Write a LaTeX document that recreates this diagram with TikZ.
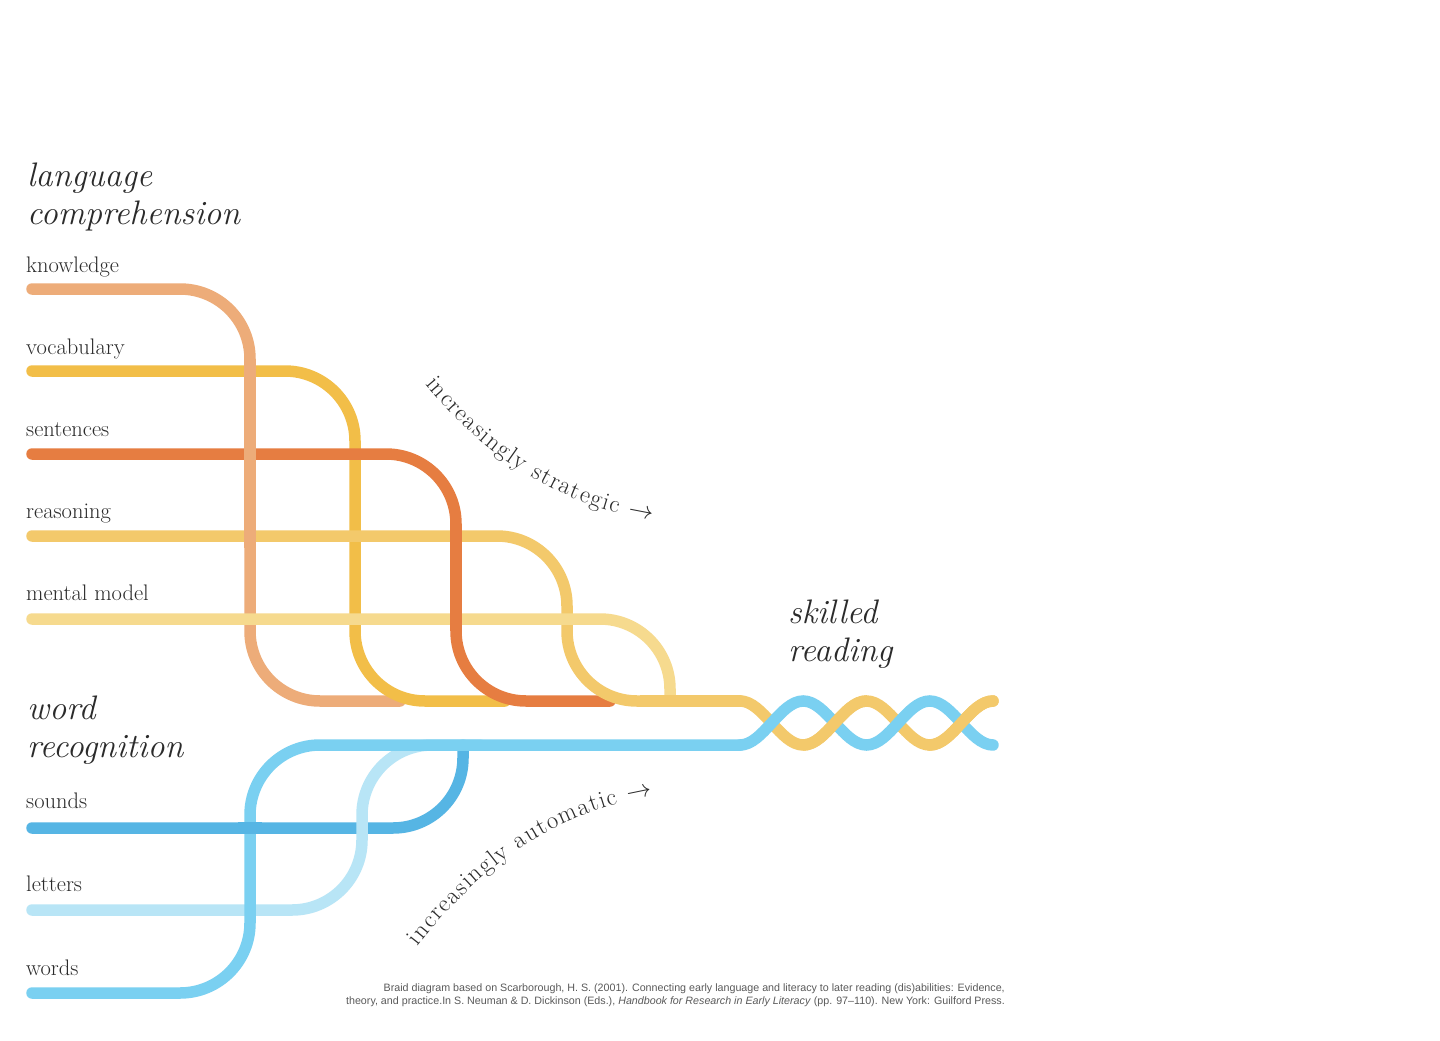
\documentclass[tikz,border=0pt]{standalone}
\usepackage{fontspec}
\newfontfamily\capfont{Liberation Sans}
\usetikzlibrary{decorations.text}
\definecolor{cknow}{HTML}{EDAC79}
\definecolor{cvoc}{HTML}{F2BE48}
\definecolor{csent}{HTML}{E67D41}
\definecolor{creas}{HTML}{F3C96B}
\definecolor{cment}{HTML}{F6DA8E}
\definecolor{csound}{HTML}{56B5E4}
\definecolor{clett}{HTML}{B8E5F6}
\definecolor{cword}{HTML}{7AD0F1}
\definecolor{textc}{HTML}{2B2B2B}
\definecolor{capc}{HTML}{5A5A5A}
\begin{document}
\begin{tikzpicture}[x=1pt,y=-1pt,
  strand/.style={line width=11.5pt, line cap=round, rounded corners=70pt},
  wave/.style={line width=11.5pt, line cap=round},
  patch/.style={line width=11.5pt, line cap=butt},
  label/.style={anchor=base west, inner sep=0pt, text=textc, font=\fontsize{22.5}{26}\selectfont},
  heading/.style={anchor=base west, inner sep=0pt, text=textc, font=\itshape\fontsize{34}{38}\selectfont},
  captext/.style={anchor=base east, inner sep=0pt, text=capc, font=\capfont\fontsize{10.7}{12}\selectfont}]
\useasboundingbox (0,0) rectangle (1440,1041);
\fill[white] (0,0) rectangle (1440,1041);

% headings and labels
\node[heading] (hlang) at (27,186) {language};
\node[heading] (hcomp) at (27,224) {comprehension};
\node[heading] (hword) at (27,719) {word};
\node[heading] (hrec) at (27,757) {recognition};
\node[heading] (hskill) at (788,623) {skilled};
\node[heading] (hread) at (788,661) {reading};

\node[label] (lknow) at (26,272) {knowledge};
\node[label] (lvoc) at (26,354) {vocabulary};
\node[label] (lsent) at (26,436) {sentences};
\node[label] (lreas) at (26,518) {reasoning};
\node[label] (lment) at (26,600) {mental model};
\node[label] (lsound) at (26,808) {sounds};
\node[label] (llett) at (26,891) {letters};
\node[label] (lword) at (26,975) {words};

% language comprehension strands
\draw[strand, cknow] (32,289) -- (250,289) -- (250,701) -- (400,701);
\draw[strand, cvoc] (32,371) -- (355,371) -- (355,701) -- (505,701);
\draw[strand, csent] (32,454) -- (456,454) -- (456,701) -- (610,701);
\draw[strand, creas] (32,536) -- (567,536) -- (567,701) -- (741,701);
\draw[wave, creas] (740,701)
  .. controls (763,701) and (780.25,745) .. (803.25,745)
  .. controls (826.25,745) and (843.5,701) .. (866.5,701)
  .. controls (889.5,701) and (906.75,745) .. (929.75,745)
  .. controls (952.75,745) and (970,701) .. (993,701);
\draw[strand, cment] (32,619) -- (670,619) -- (670,701);
% weave patches
\draw[patch, cknow] (250,359) -- (250,548);
\draw[patch, csent] (456,524) -- (456,631);
\draw[patch, creas] (640,701) -- (741,701);

% word recognition strands
\draw[strand, csound] (32,828) -- (463,828) -- (463,745);
\draw[strand, clett] (32,910) -- (362,910) -- (362,745) -- (480,745);
\draw[strand, cword] (32,993) -- (250,993) -- (250,745) -- (741,745);
\draw[wave, cword] (740,745)
  .. controls (763,745) and (780.25,701) .. (803.25,701)
  .. controls (826.25,701) and (843.5,745) .. (866.5,745)
  .. controls (889.5,745) and (906.75,701) .. (929.75,701)
  .. controls (952.75,701) and (970,745) .. (993,745);
\draw[patch, csound] (238,828) -- (262,828);

% braid patches (yellow over)
\draw[patch, creas] (803.25,745) .. controls (826.25,745) and (843.5,701) .. (866.5,701);
\draw[wave, creas] (929.75,745) .. controls (952.75,745) and (970,701) .. (993,701);

% curved texts
\path[decorate, decoration={text along path, text align={fit to path},
  text={|\fontsize{24.5}{28}\selectfont\color{textc}|increasingly strategic {$\rightarrow$}}}]
  (425,384) .. controls (472,440) and (540,502) .. (652,520);
\path[decorate, decoration={text along path, text align={fit to path},
  text={|\fontsize{24.5}{28}\selectfont\color{textc}|increasingly automatic {$\rightarrow$}}}]
  (418,946) .. controls (468,882) and (540,815) .. (652,796);

% caption
\node[captext] (cap1) at (1005,991) {Braid diagram based on Scarborough, H. S. (2001). Connecting early language and literacy to later reading (dis)abilities: Evidence,};
\node[captext] (cap2) at (1005,1004) {theory, and practice.In S. Neuman \& D. Dickinson (Eds.), \textit{Handbook for Research in Early Literacy} (pp. 97–110). New York: Guilford Press.};
\end{tikzpicture}
\end{document}
